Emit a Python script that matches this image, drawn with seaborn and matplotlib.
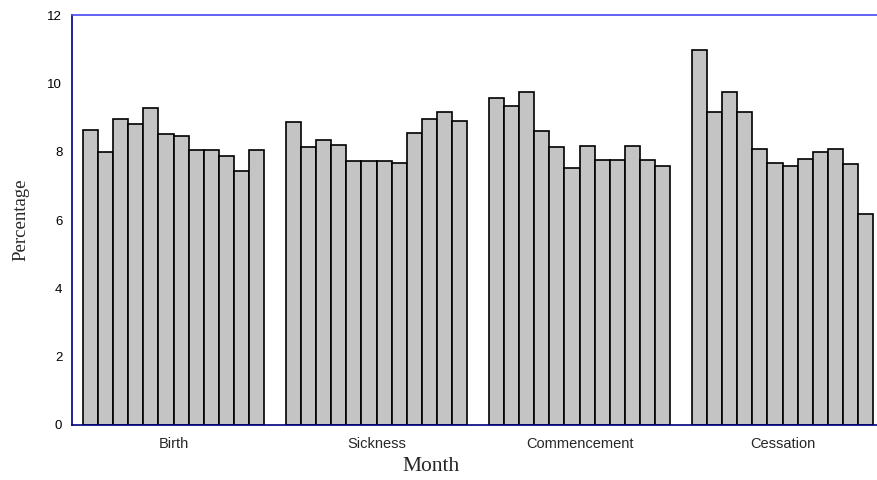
import matplotlib
matplotlib.use("Agg")
import matplotlib.pyplot as plt
import pandas as pd
import seaborn as sns

# Percentage of events per month, grouped by event type
categories = ["Birth", "Sickness", "Commencement", "Cessation"]
months = ["Jan", "Feb", "Mar", "Apr", "May", "Jun",
          "Jul", "Aug", "Sep", "Oct", "Nov", "Dec"]
birth = [8.65, 7.99, 8.96, 8.82, 9.27, 8.51, 8.45, 8.04, 8.04, 7.88, 7.43, 8.04]
sickness = [8.87, 8.15, 8.35, 8.20, 7.73, 7.73, 7.73, 7.68, 8.55, 8.97, 9.17, 8.89]
commencement = [9.58, 9.33, 9.74, 8.60, 8.15, 7.53, 8.18, 7.75, 7.75, 8.18, 7.75, 7.58]
cessation = [10.97, 9.16, 9.74, 9.16, 8.09, 7.67, 7.57, 7.78, 7.99, 8.09, 7.63, 6.18]
yticks = [0, 2, 4, 6, 8, 10, 12]

rows = []
for cat, vals in zip(categories, [birth, sickness, commencement, cessation]):
    for m, v in zip(months, vals):
        rows.append({"category": cat, "month": m, "pct": v})
df = pd.DataFrame(rows)

sns.set_style("white")

fig = plt.figure(figsize=(8.77, 4.80), dpi=100)
ax = fig.add_axes([0.0821, 0.1146, 0.926, 0.854])

sns.barplot(
    data=df,
    x="category",
    y="pct",
    hue="month",
    order=categories,
    hue_order=months,
    palette=["#c4c4c4"] * len(months),
    width=0.895,
    gap=0,
    edgecolor="black",
    linewidth=1.2,
    saturation=1,
    legend=False,
    ax=ax,
)

ax.set_xlim(-0.5, 3.5)
ax.set_ylim(0, 12)
ax.set_yticks(yticks)
ax.set_yticklabels([str(t) for t in yticks], fontfamily="Liberation Sans", fontsize=9.5)

# group boundaries carry the tick marks, labels sit at group centres
ax.set_xticks([-0.5, 0.5, 1.5, 2.5, 3.5])
ax.set_xticklabels([""] * 5)
ax.set_xticks([0, 1, 2, 3], minor=True)
ax.set_xticklabels(categories, minor=True, fontfamily="Liberation Sans", fontsize=10.5)
ax.tick_params(axis="x", which="minor", length=0, pad=9)
ax.tick_params(axis="x", which="major", length=4, width=0.8, color="black", direction="out")
ax.tick_params(axis="y", length=4, width=0.8, color="black", direction="out", pad=3)
ax.tick_params(axis="both", labelcolor="black")

ax.set_xlabel("Month", fontfamily="Liberation Serif", fontsize=15.5)
ax.xaxis.set_label_coords(0.442, -0.077)
ax.set_ylabel("Percentage", fontfamily="Liberation Serif", fontsize=13.5, labelpad=13)

for side in ["left", "bottom"]:
    ax.spines[side].set_color("#000080")
    ax.spines[side].set_linewidth(1.2)
ax.spines["top"].set_color("#4848f0")
ax.spines["top"].set_linewidth(1.2)
ax.spines["right"].set_visible(False)

fig.savefig("out.png", dpi=100)
plt.close(fig)
